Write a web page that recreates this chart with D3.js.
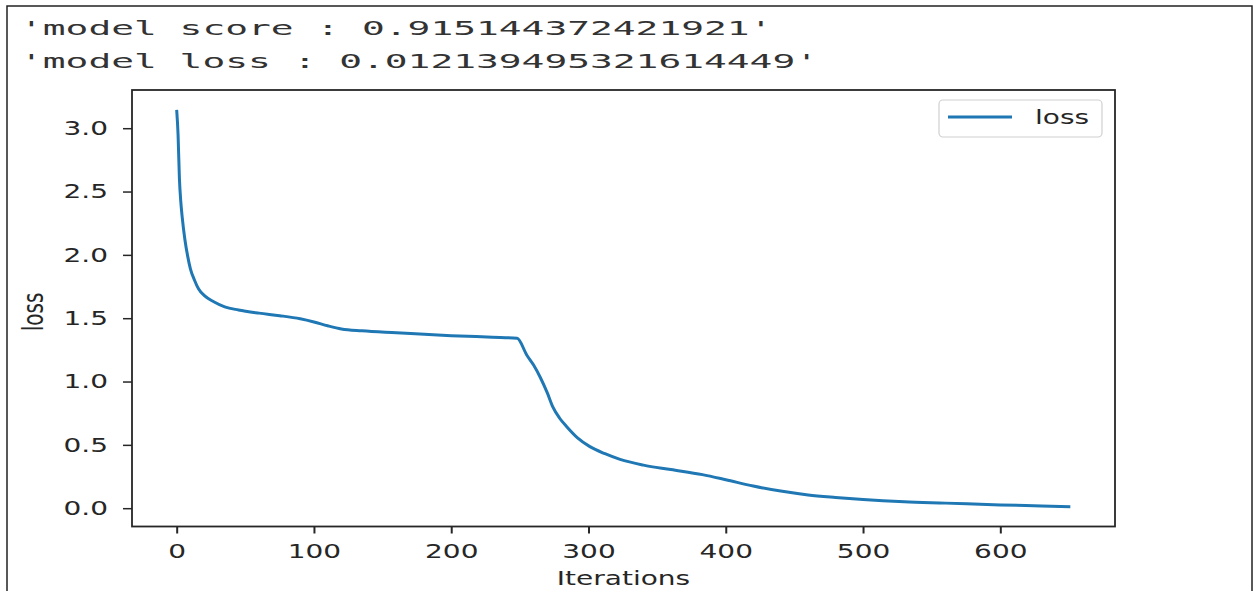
<!DOCTYPE html>
<html>
<head>
<meta charset="utf-8">
<script src="https://cdn.jsdelivr.net/npm/d3@7"></script>
<style>
  body { margin: 0; background: #fff; }
  svg { display: block; }
</style>
</head>
<body>
<svg id="chart"></svg>
<script>
const w = 1255;
const h = 591;

// loss curve
const iterations = [0, 1, 2, 3, 4, 6, 8, 10, 13, 16, 20, 27, 35, 45, 60, 75, 90, 100, 110, 120, 135, 160, 200, 230, 248,
                    255, 260, 265, 270, 274, 279, 284, 292, 301, 312, 323, 340, 360, 383, 400, 420, 440, 460, 480, 500, 530, 560, 600, 630, 651];
const lossValues = [3.145, 2.95, 2.6, 2.42, 2.3, 2.12, 1.99, 1.89, 1.8, 1.73, 1.68, 1.63, 1.59, 1.565, 1.54, 1.52, 1.495, 1.47, 1.44, 1.415, 1.40, 1.385, 1.362, 1.35, 1.342,
                    1.21, 1.13, 1.03, 0.91, 0.80, 0.71, 0.645, 0.555, 0.486, 0.43, 0.385, 0.34, 0.305, 0.265, 0.225, 0.175, 0.135, 0.105, 0.085, 0.068, 0.05, 0.04, 0.026, 0.018, 0.0121];

const xTicks = [0, 100, 200, 300, 400, 500, 600];
const yTicks = [0, 0.5, 1.0, 1.5, 2.0, 2.5, 3.0];
const headerLines = ["'model score : 0.915144372421921'", "'model loss : 0.012139495321614449'"];
const seriesName = 'loss';

const padL = 132, padR = 1115, padT = 90, padB = 526.5;
const stretch = 1.4;   // the screenshot is stretched sideways
const ink = '#262626';
const blue = '#1f77b4';

const svg = d3.select('#chart')
    .attr('width', w)
    .attr('height', h)
    .style('font-family', '"DejaVu Sans", sans-serif');

// outer frame of the screenshot
svg.append('rect')
    .attr('x', 7).attr('y', 6)
    .attr('width', 1245).attr('height', 600)
    .attr('fill', 'none')
    .attr('stroke', '#222')
    .attr('stroke-width', 1.5);

svg.selectAll('.header')
    .data(headerLines)
    .enter()
    .append('text')
    .attr('class', 'header')
    .attr('x', 20)
    .attr('y', (d, i) => 35 + i * 33.3)
    .attr('textLength', (d) => d.length * 22.8)
    .attr('lengthAdjust', 'spacingAndGlyphs')
    .style('font-family', '"DejaVu Sans Mono", monospace')
    .style('font-size', '20px')
    .attr('fill', '#333')
    .text((d) => d);

// matplotlib style 5% margins
const xPad = (d3.max(iterations) - d3.min(iterations)) * 0.05;
const yPad = (d3.max(lossValues) - d3.min(lossValues)) * 0.05;

const xScale = d3.scaleLinear()
    .domain([d3.min(iterations) - xPad, d3.max(iterations) + xPad])
    .range([padL, padR]);

const yScale = d3.scaleLinear()
    .domain([d3.min(lossValues) - yPad, d3.max(lossValues) + yPad])
    .range([padB, padT]);

const xAxis = d3.axisBottom(xScale).tickValues(xTicks).tickSize(7).tickFormat(d3.format('d'));
const yAxis = d3.axisLeft(yScale).tickValues(yTicks).tickSize(9).tickFormat(d3.format('.1f'));

const gx = svg.append('g')
    .attr('transform', 'translate(0,' + padB + ')')
    .call(xAxis)
    .attr('font-family', null).attr('font-size', null);
gx.select('.domain').remove();
gx.selectAll('line').attr('stroke', ink).attr('stroke-width', 2);
gx.selectAll('text')
    .attr('y', null).attr('dy', null)
    .attr('transform', 'translate(0,31.5) scale(' + stretch + ',1)')
    .attr('fill', ink)
    .style('font-size', '20px');

const gy = svg.append('g')
    .attr('transform', 'translate(' + padL + ',0)')
    .call(yAxis)
    .attr('font-family', null).attr('font-size', null);
gy.select('.domain').remove();
gy.selectAll('line').attr('stroke', ink).attr('stroke-width', 1.5);
gy.selectAll('text')
    .attr('x', null)
    .attr('transform', 'translate(-24,0) scale(' + stretch + ',1)')
    .attr('fill', ink)
    .style('font-size', '20px');

const line = d3.line()
    .x((d, i) => xScale(iterations[i]))
    .y((d) => yScale(d))
    .curve(d3.curveMonotoneX);

svg.append('path')
    .datum(lossValues)
    .attr('d', line)
    .attr('fill', 'none')
    .attr('stroke', blue)
    .attr('stroke-width', 3)
    .attr('stroke-linejoin', 'round');

// axes box
svg.append('rect')
    .attr('x', padL).attr('y', padT)
    .attr('width', padR - padL).attr('height', padB - padT)
    .attr('fill', 'none')
    .attr('stroke', ink)
    .attr('stroke-width', 1.8);

svg.append('text')
    .attr('transform', 'translate(623.5,585) scale(' + stretch + ',1)')
    .attr('text-anchor', 'middle')
    .attr('fill', ink)
    .style('font-size', '20px')
    .text('Iterations');

svg.append('text')
    .attr('transform', 'translate(43,312) scale(' + stretch + ',1) rotate(-90)')
    .attr('text-anchor', 'middle')
    .attr('fill', ink)
    .style('font-size', '20px')
    .text('loss');

// legend
const legend = svg.append('g');
legend.append('rect')
    .attr('x', 939).attr('y', 100)
    .attr('width', 163).attr('height', 37)
    .attr('rx', 4)
    .attr('fill', '#fff').attr('fill-opacity', 0.8)
    .attr('stroke', '#d0d0d0').attr('stroke-width', 1.2);
legend.append('line')
    .attr('x1', 948).attr('x2', 1012)
    .attr('y1', 117).attr('y2', 117)
    .attr('stroke', blue).attr('stroke-width', 3);
legend.append('text')
    .attr('transform', 'translate(1035,124) scale(' + stretch + ',1)')
    .attr('fill', ink)
    .style('font-size', '20px')
    .text(seriesName);
</script>
</body>
</html>
